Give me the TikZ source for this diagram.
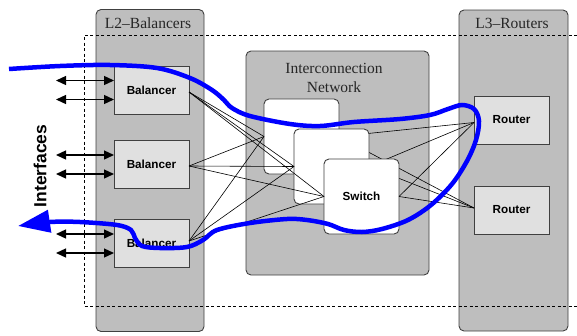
\documentclass[tikz,border=0pt]{standalone}
\usepackage{fontspec}
\setmainfont{Liberation Serif}
\setsansfont{Liberation Sans}
\usetikzlibrary{arrows.meta}
\definecolor{colgray}{HTML}{BEBEBE}
\definecolor{boxgray}{HTML}{E0E0E0}
\definecolor{edgegray}{HTML}{404040}
\begin{document}
\begin{tikzpicture}[x=1pt,y=-1pt,
  column/.style={draw=edgegray,fill=colgray,line width=0.9pt,rounded corners=5pt,inner sep=0pt,outer sep=0pt},
  coltitle/.style={font=\fontsize{15.5}{17}\selectfont,text=black!85,inner sep=0pt,align=center},
  unitbox/.style={draw=edgegray,fill=boxgray,line width=0.9pt,minimum width=75pt,minimum height=48pt,inner sep=0pt,outer sep=0pt,font=\sffamily\bfseries\fontsize{11.7}{13}\selectfont},
  switchbox/.style={draw=edgegray,fill=white,line width=0.9pt,rounded corners=5pt,minimum width=75pt,minimum height=75pt,inner sep=0pt,outer sep=0pt,font=\sffamily\bfseries\fontsize{11.7}{13}\selectfont},
  link/.style={black,line width=0.6pt},
  dbl/.style={black,line width=1.3pt,{Triangle[length=10pt,width=9pt]}-{Triangle[length=10pt,width=9pt]}},
  bound/.style={black,line width=0.9pt,dash pattern=on 3pt off 2.5pt},
  flow/.style={blue,line width=4.5pt,-{Triangle[length=32pt,width=22pt]}}
]
\useasboundingbox (0,0) rectangle (577,335);

% columns
\node[column,minimum width=108pt,minimum height=322pt] (l2) at (150,170.5) {};
\node[column,minimum width=183pt,minimum height=224pt] (net) at (337.5,163) {};
\node[column,minimum width=109pt,minimum height=321pt] (l3) at (513.5,170.5) {};
\node[coltitle] (l2t) at (148,23) {L2–Balancers};
\node[coltitle] (l3t) at (512,23) {L3–Routers};
\node[coltitle] (nett) at (334,77.5) {Interconnection\\[2pt]Network};

% dashed boundary
\coordinate (dtr) at (577,35);
\coordinate (dtl) at (84,35);
\coordinate (dbl) at (84,306);
\coordinate (dbr) at (577,306);
\draw[bound] (dtr) -- (dtl) -- (dbl) -- (dbr);

% balancers and routers
\node[unitbox] (b1) at (151.5,90) {Balancer};
\node[unitbox] (b2) at (151.5,164.5) {Balancer};
\node[unitbox] (b3) at (151.5,243.5) {Balancer};
\node[unitbox] (r1) at (511.5,120) {Router};
\node[unitbox] (r2) at (511.5,210) {Router};

\coordinate (b1p) at ([yshift=-2pt]b1.east);
\coordinate (b2p) at ([yshift=-1.5pt]b2.east);
\coordinate (b3p) at ([yshift=2.5pt]b3.east);
\coordinate (r1p) at ([yshift=-2.5pt]r1.west);
\coordinate (r2p) at ([yshift=2pt]r2.west);

% switch A
\node[switchbox] (sa) at (301.5,136.5) {};
\draw[link] (b1p) -- (sa.west);
\draw[link] (b2p) -- (sa.west);
\draw[link] (b3p) -- (sa.west);
\draw[link] (sa.east) -- (r1p);
\draw[link] (sa.east) -- (r2p);
% switch B
\node[switchbox] (sb) at (331.5,166.5) {};
\draw[link] (b1p) -- (sb.west);
\draw[link] (b2p) -- (sb.west);
\draw[link] (b3p) -- (sb.west);
\draw[link] (sb.east) -- (r1p);
\draw[link] (sb.east) -- (r2p);
% switch C
\node[switchbox] (sc) at (361.5,196.5) {Switch};
\draw[link] (b1p) -- (sc.west);
\draw[link] (b2p) -- (sc.west);
\draw[link] (b3p) -- (sc.west);
\draw[link] (sc.east) -- (r1p);
\draw[link] (sc.east) -- (r2p);

% interface arrows
\foreach \b in {b1,b2,b3}{
  \draw[dbl] ([yshift=9.5pt]\b.west) -- ++(-58,0);
  \draw[dbl] ([yshift=-9.5pt]\b.west) -- ++(-58,0);
}

% traffic flow
\draw[flow] plot[smooth,tension=0.55] coordinates {
 (9,69) (60,66) (110,65) (157,68) (190,78) (212,90) (224,100) (232,108)
 (250,116) (290,124) (320,126) (354,122) (400,119) (430,115) (448,109)
 (462,105) (474,109) (479,121) (476,140) (467,161) (452,184) (431,205)
 (408,220) (382,229) (362,232) (344,230) (328,224) (307,220) (287,219)
 (250,223) (217,230) (203,240) (187,247) (160,248) (142,246) (135,238)
 (131,230) (117,225) (80,222) (50,222) (18,226)};

\node[rotate=90,font=\sffamily\bfseries\fontsize{17.5}{20}\selectfont,inner sep=0pt] (ifc) at (40,166) {Interfaces};
\end{tikzpicture}
\end{document}
